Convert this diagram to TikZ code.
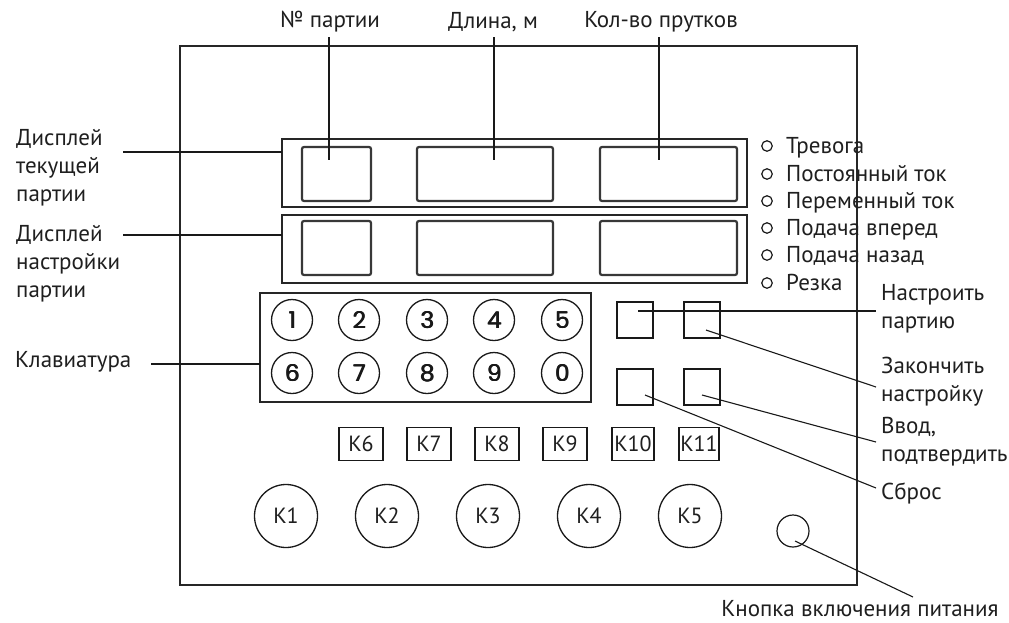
\documentclass[tikz,border=0pt]{standalone}
\usepackage{fontspec}
\setmainfont{PT Sans}
\newfontfamily\digitfont{Poppins}
\newcommand\dgtheavy[1]{\makebox[0pt][l]{\hspace{0.8pt}#1}\makebox[0pt][l]{\raisebox{0.4pt}{\hspace{0.4pt}#1}}#1}
\begin{document}
\begin{tikzpicture}[x=1pt,y=-1pt,
  frame/.style={draw=black!85, line width=1.4pt, inner sep=0pt, outer sep=0pt},
  lcd/.style={draw=black!78, line width=2.2pt, rounded corners=2pt, inner sep=0pt, outer sep=0pt},
  lead/.style={draw=black!90, line width=1.1pt},
  lbl/.style={font=\fontsize{23}{28}\selectfont, text=black!88, inner sep=0pt, align=left},
  digit/.style={circle, draw=black!90, line width=1.3pt, minimum size=41pt, inner sep=0pt, font=\digitfont\fontsize{23}{23}\selectfont, text=black!90},
  kbox/.style={draw=black!90, line width=1.3pt, minimum height=33pt, inner sep=2pt, font=\fontsize{22}{22}\selectfont, text=black!88},
  kcirc/.style={circle, draw=black!90, line width=1.3pt, minimum size=63pt, inner sep=0pt, font=\fontsize{22}{22}\selectfont, text=black!88},
  led/.style={circle, draw=black!90, line width=1.2pt, minimum size=10.5pt, inner sep=0pt},
  btn/.style={draw=black!90, line width=1.3pt, minimum size=36pt, inner sep=0pt}]
\useasboundingbox (0,0) rectangle (1009,622);
\fill[white] (0,0) rectangle (1009,622);
% main panel
\node[frame, minimum width=677pt, minimum height=539pt] (panel) at (518.5,315.5) {};
% displays
\node[frame, minimum width=465pt, minimum height=68pt] (dispU) at (514.5,173) {};
\node[frame, minimum width=465pt, minimum height=68pt] (dispL) at (514.5,249) {};
\node[lcd, minimum width=69pt, minimum height=54pt] (uA) at (336.5,174) {};
\node[lcd, minimum width=136pt, minimum height=54pt] (uB) at (485,174) {};
\node[lcd, minimum width=137pt, minimum height=54pt] (uC) at (668.5,174) {};
\node[lcd, minimum width=69pt, minimum height=54pt] (lA) at (336.5,248) {};
\node[lcd, minimum width=136pt, minimum height=54pt] (lB) at (485,248) {};
\node[lcd, minimum width=137pt, minimum height=54pt] (lC) at (668.5,248) {};
% top labels
\node[lbl] (tPart) at (330,22) {№ партии};
\node[lbl] (tLen) at (493,22) {Длина, м};
\node[lbl] (tCnt) at (661,22) {Кол-во прутков};
\coordinate (sPart) at (329,37); \coordinate (ePart) at (329,160);
\coordinate (sLen) at (494,37); \coordinate (eLen) at (494,160);
\coordinate (sCnt) at (659,37); \coordinate (eCnt) at (659,160);
\draw[lead] (sPart) -- (ePart);
\draw[lead] (sLen) -- (eLen);
\draw[lead] (sCnt) -- (eCnt);
% left labels
\node[lbl, anchor=west] (lCur) at (16,168) {Дисплей\\текущей\\партии};
\node[lbl, anchor=west] (lSet) at (16,264) {Дисплей\\настройки\\партии};
\node[lbl, anchor=west] (lKey) at (15,362) {Клавиатура};
\coordinate (sCur) at (123,152);
\coordinate (sSet) at (123,235);
\coordinate (sKey) at (151,364);
\draw[lead] (sCur) -- (sCur -| dispU.west);
\draw[lead] (sSet) -- (sSet -| dispL.west);
% keypad
\node[frame, minimum width=331pt, minimum height=109pt] (keypad) at (425.5,347.5) {};
\draw[lead] (sKey) -- (sKey -| keypad.west);
\node[digit] (d1) at (292,320) {\dgtheavy{1}};
\node[digit] (d2) at (359,320) {\dgtheavy{2}};
\node[digit] (d3) at (427,320) {\dgtheavy{3}};
\node[digit] (d4) at (494,320) {\dgtheavy{4}};
\node[digit] (d5) at (562,320) {\dgtheavy{5}};
\node[digit] (d6) at (292,373) {\dgtheavy{6}};
\node[digit] (d7) at (359,373) {\dgtheavy{7}};
\node[digit] (d8) at (427,373) {\dgtheavy{8}};
\node[digit] (d9) at (494,373) {\dgtheavy{9}};
\node[digit] (d0) at (562,373) {\dgtheavy{0}};
% LEDs
\foreach \y/\t/\n in {146/Тревога/1, 174/Постоянный ток/2, 201/Переменный ток/3, 228/Подача вперед/4, 255/Подача назад/5, 283/Резка/6}{
  \node[led] (led\n) at (767,\y) {};
  \node[lbl, anchor=base west] (ledt\n) at (786,\y+7) {\t};
}
% buttons
\node[btn] (bSet) at (635,320) {};
\node[btn] (bEnd) at (702,320) {};
\node[btn] (bRst) at (635,387) {};
\node[btn] (bOk) at (702,387) {};
\node[lbl, anchor=west] (rSet) at (881,309) {Настроить\\партию};
\node[lbl, anchor=west] (rEnd) at (881,382) {Закончить\\настройку};
\node[lbl, anchor=west] (rOk) at (881,442) {Ввод,\\подтвердить};
\node[lbl, anchor=west] (rRst) at (881,493) {Сброс};
\coordinate (pSet) at (638,311); \coordinate (qSet) at (876,311);
\coordinate (pEnd) at (706,330); \coordinate (qEnd) at (876,387);
\coordinate (pOk) at (702,395); \coordinate (qOk) at (876,442);
\coordinate (pRst) at (645,395); \coordinate (qRst) at (876,488);
\draw[lead] (pSet) -- (qSet);
\draw[lead] (pEnd) -- (qEnd);
\draw[lead] (pOk) -- (qOk);
\draw[lead] (pRst) -- (qRst);
% K boxes
\node[kbox, minimum width=44pt] (k6) at (361,444) {К6};
\node[kbox, minimum width=44pt] (k7) at (429,444) {К7};
\node[kbox, minimum width=44pt] (k8) at (497,444) {К8};
\node[kbox, minimum width=44pt] (k9) at (565,444) {К9};
\node[kbox, minimum width=42pt, inner sep=1pt] (k10) at (633,444) {К10};
\node[kbox, minimum width=40pt, inner sep=1pt] (k11) at (699,444) {К11};
% K circles
\node[kcirc] (k1) at (286,516) {К1};
\node[kcirc] (k2) at (387,516) {К2};
\node[kcirc] (k3) at (488,516) {К3};
\node[kcirc] (k4) at (589,516) {К4};
\node[kcirc] (k5) at (690,516) {К5};
% power
\node[circle, draw=black!90, line width=1.2pt, minimum size=32pt, inner sep=0pt] (pwr) at (793,531) {};
\node[lbl] (pwrt) at (860,609) {Кнопка включения питания};
\coordinate (pPwr) at (795,541); \coordinate (qPwr) at (913,597);
\draw[lead] (pPwr) -- (qPwr);
\end{tikzpicture}
\end{document}
